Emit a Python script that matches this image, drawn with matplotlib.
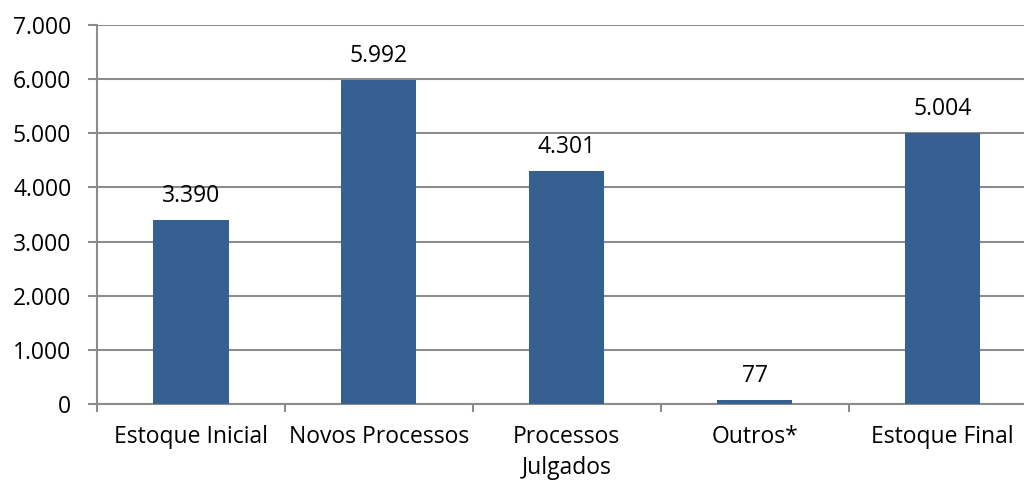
import matplotlib
matplotlib.use("Agg")
from matplotlib import pyplot as plt

categorias = ["Estoque Inicial", "Novos Processos", "Processos\nJulgados", "Outros*", "Estoque Final"]
valores = [3390, 5992, 4301, 77, 5004]
y_ticks = [0, 1000, 2000, 3000, 4000, 5000, 6000, 7000]
y_labels = ["0", "1.000", "2.000", "3.000", "4.000", "5.000", "6.000", "7.000"]
rotulos = ["3.390", "5.992", "4.301", "77", "5.004"]

plt.rcParams['font.family'] = ['Open Sans', 'DejaVu Sans']
plt.rcParams['font.size'] = 16.5

grey = '#8c8c8c'
fig = plt.figure(figsize=(10.24, 4.82), dpi=100)
# the plot area runs past the right edge of the picture, as in the reference
ax = fig.add_axes([97 / 1024, 1 - 404 / 482, 939.5 / 1024, 379 / 482])

x = list(range(len(categorias)))
ax.bar(x, valores, width=0.4, color='#366092', zorder=3)
for xi, v, r in zip(x, valores, rotulos):
    ax.annotate(r, (xi, v), xytext=(0, 12), textcoords='offset pixels',
                ha='center', va='bottom', fontsize=16.5)

ax.set_xlim(-0.5, len(categorias) - 0.5)
ax.set_ylim(0, 7000)
ax.set_yticks(y_ticks)
ax.set_yticklabels(y_labels)
ax.set_xticks(x)
ax.set_xticklabels(categorias, va='top', linespacing=1.4)
ax.set_xticks([i - 0.5 for i in range(len(categorias) + 1)], minor=True)

ax.yaxis.grid(True, color=grey, linewidth=1.5, zorder=0)
ax.set_axisbelow(True)
for s in ['top', 'right']:
    ax.spines[s].set_visible(False)
for s in ['left', 'bottom']:
    ax.spines[s].set_color(grey)
    ax.spines[s].set_linewidth(1.5)

ax.tick_params(axis='y', length=6.5, width=1.5, color=grey, pad=12)
ax.tick_params(axis='x', which='major', length=0, pad=15)
ax.tick_params(axis='x', which='minor', length=6, width=1.5, color=grey)

fig.savefig('out.png', dpi=100)
